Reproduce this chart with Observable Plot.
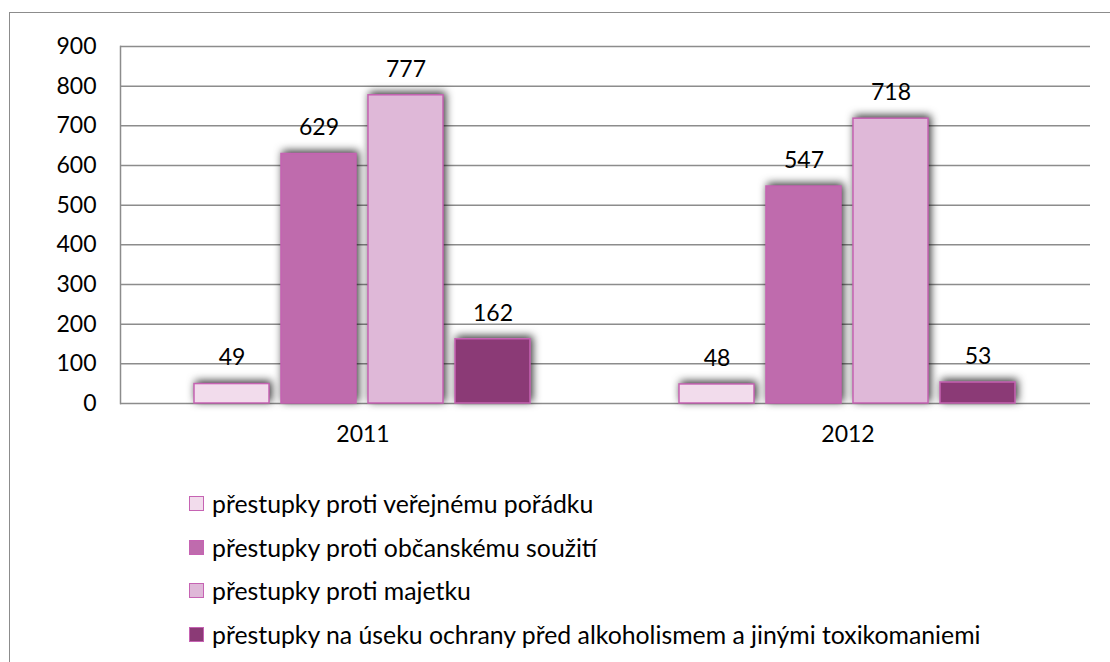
<!DOCTYPE html>
<html>
<head>
<meta charset="utf-8">
<script src="https://cdn.jsdelivr.net/npm/d3@7"></script>
<script src="https://cdn.jsdelivr.net/npm/@observablehq/plot@0.6"></script>
<style>
  body { margin: 0; background: #fff; font-family: Lato, "Noto Sans", sans-serif; }
  #box { position: absolute; left: 9px; top: 12px; width: 1120px; height: 700px; border: 1px solid #8c8c8c; box-sizing: border-box; background: #fff; }
  #chart { position: absolute; left: 0; top: 0; }
  #legend { position: absolute; left: 179px; top: 469px; font-size: 24.8px; color: #000; }
  .item { display: flex; align-items: center; height: 43.5px; }
  .sw { width: 15px; height: 15px; border: 1.5px solid #c663b3; margin-right: 8px; box-sizing: border-box; }
  g[aria-label="bar"] rect { filter: drop-shadow(2px -2px 4px rgba(0,0,0,0.8)); }
</style>
</head>
<body>
<div id="box">
  <div id="chart"></div>
  <div id="legend"></div>
</div>
<script>
const years = ["2011", "2012"];
const series = [
  "přestupky proti veřejnému pořádku",
  "přestupky proti občanskému soužití",
  "přestupky proti majetku",
  "přestupky na úseku ochrany před alkoholismem a jinými toxikomaniemi"
];
const values2011 = [49, 629, 777, 162];
const values2012 = [48, 547, 718, 53];
const colors = ["#f2dcec", "#bf6bad", "#dfb8d8", "#8b3a76"];
const yTicks = [0, 100, 200, 300, 400, 500, 600, 700, 800, 900];

const data = [];
years.forEach((yr, yi) => {
  const vals = yi === 0 ? values2011 : values2012;
  series.forEach((s, si) => data.push({year: yr, series: s, value: vals[si]}));
});

const FS = 23;
const plot = Plot.plot({
  width: 1100,
  height: 460,
  marginLeft: 110,
  marginRight: 20,
  marginTop: 33,
  marginBottom: 70,
  style: {fontFamily: "Lato, 'Noto Sans', sans-serif", fontSize: FS + "px", color: "#000", background: "transparent"},
  fx: {domain: years, padding: 0, label: null},
  x: {domain: series, paddingInner: 0.136, paddingOuter: 0.824, axis: null},
  y: {domain: [0, 900], ticks: yTicks, label: null},
  color: {domain: series, range: colors},
  marks: [
    Plot.ruleY(yTicks, {y: d => d, stroke: "#8c8c8c", strokeWidth: 1.5}),
    Plot.frame({anchor: "left", stroke: "#8c8c8c", strokeWidth: 1.5, facet: "super"}),
    Plot.axisY({ticks: yTicks, tickSize: 0, tickPadding: 24, fontSize: FS, label: null}),
    Plot.axisFx({anchor: "bottom", tickSize: 0, tickPadding: 22, fontSize: FS, label: null}),
    Plot.barY(data, {fx: "year", x: "series", y: "value", fill: "series", stroke: "#c663b3", strokeWidth: 1.5}),
    Plot.text(data, {fx: "year", x: "series", y: "value", text: d => String(d.value), dy: -26, fill: "#000", fontSize: FS})
  ]
});
document.getElementById("chart").appendChild(plot);

const legend = document.getElementById("legend");
series.forEach((s, i) => {
  const item = document.createElement("div");
  item.className = "item";
  const sw = document.createElement("span");
  sw.className = "sw";
  sw.style.background = colors[i];
  const t = document.createElement("span");
  t.textContent = s;
  item.appendChild(sw);
  item.appendChild(t);
  legend.appendChild(item);
});
</script>
</body>
</html>
